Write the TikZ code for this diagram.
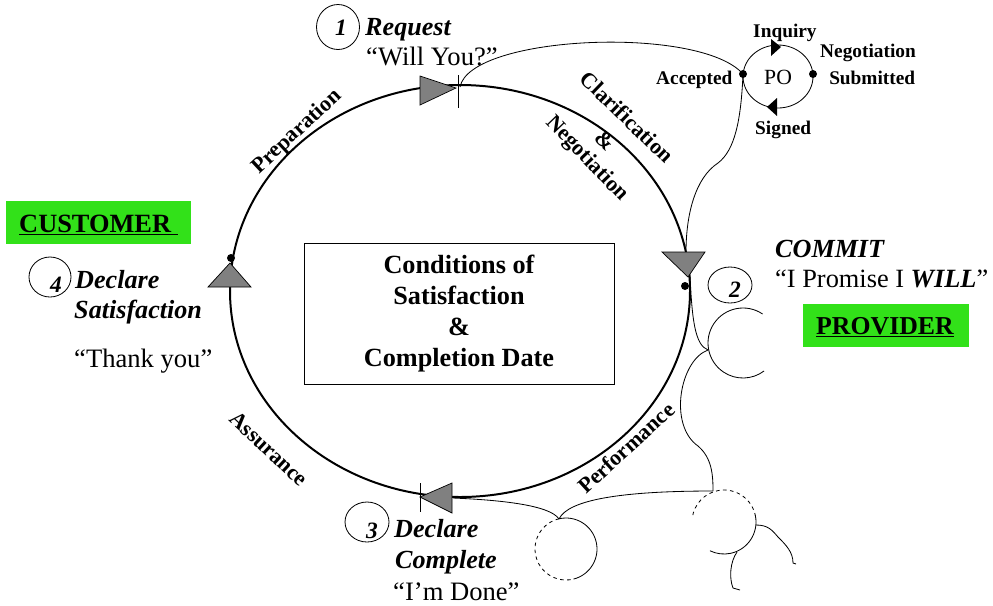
\documentclass[tikz,border=0pt]{standalone}
\usepackage{fontspec}
\setmainfont{Liberation Serif}
\definecolor{boxgreen}{RGB}{50,225,25}
\definecolor{arrowgray}{RGB}{128,128,128}

\begin{document}
\begin{tikzpicture}[x=0.03cm, y=0.03cm,
	sayit/.style={font=\fontsize{22.7}{26}\selectfont, inner sep=0pt, anchor=base west},
	bolditext/.style={sayit, font=\fontsize{22.3}{26}\selectfont\bfseries\itshape},
	arclabel/.style={font=\fontsize{18.8}{20}\selectfont\bfseries, inner sep=0pt},
	polabel/.style={font=\fontsize{16.5}{18}\selectfont\bfseries, inner sep=0pt, anchor=base west},
	numtext/.style={font=\fontsize{20}{22}\selectfont\bfseries\itshape, inner sep=0pt},
	wire/.style={line width=0.7pt},
	pointer/.style={fill=arrowgray, draw=black, line width=0.6pt},
	]
	\useasboundingbox (0,0) rectangle (993,-605);

	% the loop
	\draw[line width=1.7pt] (460,-291) ellipse [x radius=230, y radius=206];

	\node[draw, line width=0.8pt, minimum width=9.3cm, minimum height=4.23cm,
		align=center, font=\fontsize{22.4}{26.5}\selectfont\bfseries] (cos) at (459,-313.5)
		{Conditions of\\Satisfaction\\\&\\Completion Date};

	% phases
	\node[arclabel, rotate=43] (prep) at (297,-132) {Preparation};
	\node[arclabel, rotate=-44] (clar) at (627,-117) {Clarification};
	\node[arclabel, rotate=-44] (amp) at (605,-141) {\&};
	\node[arclabel, rotate=-46] (nego) at (587,-159) {Negotiation};
	\node[arclabel, rotate=42.5] (perf) at (626,-448) {Performance};
	\node[arclabel, rotate=-43] (assu) at (269,-449) {Assurance};

	% arrows on the loop
	\draw[pointer] (420,-76) -- (420,-105) -- (456,-88) -- cycle;
	\draw[line width=0.7pt] (458,-75) -- (458,-108);
	\draw[pointer] (662,-252) -- (705,-252) -- (688,-277) -- cycle;
	\draw[pointer] (208,-287) -- (251,-287) -- (230,-263) -- cycle;
	\draw[pointer] (452,-483) -- (452,-513) -- (420,-497) -- cycle;
	\draw[line width=0.7pt] (420,-483) -- (420,-512);
	\fill (685,-286) circle [radius=4];
	\fill (231,-258) circle [radius=4];

	% steps
	\draw[wire] (338,-27) ellipse [x radius=21.5, y radius=22.5];
	\node[numtext] (one) at (341,-28) {1};
	\node[bolditext] (req) at (365,-35) {Request};
	\node[sayit] (willyou) at (366,-65) {“Will You?”};

	\draw[wire] (730,-285) ellipse [x radius=22, y radius=18];
	\node[numtext] (two) at (735,-290) {2};
	\node[bolditext] (commit) at (775,-257) {COMMIT};
	\node[sayit, font=\fontsize{22.5}{26}\selectfont] (promise) at (775,-287) {“I Promise I \textbf{\textit{WILL}}”};

	\draw[wire] (367,-522) ellipse [x radius=22, y radius=20];
	\node[numtext] (three) at (372,-531) {3};
	\node[bolditext] (decl3) at (394,-537) {Declare};
	\node[bolditext] (compl) at (395,-568) {Complete};
	\node[sayit] (done) at (393,-600) {“I’m Done”};

	\draw[wire] (50,-277) ellipse [x radius=21, y radius=20];
	\node[numtext] (four) at (56,-285) {4};
	\node[bolditext] (decl4) at (75,-288) {Declare};
	\node[bolditext] (satis) at (74,-318) {Satisfaction};
	\node[sayit] (thanks) at (74,-367) {“Thank you”};

	% roles
	\fill[boxgreen] (6,-201) rectangle (191,-244);
	\node[sayit, font=\fontsize{22.5}{26}\selectfont\bfseries] (customer) at (19,-232) {\underline{CUSTOMER\ }};
	\fill[boxgreen] (803,-304) rectangle (969,-347);
	\node[sayit, font=\fontsize{22}{26}\selectfont\bfseries] (provider) at (816,-334) {\underline{PROVIDER}};

	% PO cycle
	\draw[wire] (778,-76.5) ellipse [x radius=35, y radius=31.5];
	\fill (771,-39) -- (771,-56) -- (781,-47) -- cycle;
	\fill (777,-98) -- (777,-116) -- (767,-107) -- cycle;
	\coordinate (acc) at (743,-74);
	\coordinate (subm) at (813,-74);
	\fill (acc) circle [radius=4];
	\fill (subm) circle [radius=4];
	\node[sayit, font=\fontsize{18.5}{20}\selectfont] (po) at (764,-84) {PO};
	\node[polabel] (inq) at (753,-37) {Inquiry};
	\node[polabel] (negs) at (820,-57) {Negotiation};
	\node[polabel] (sub) at (829,-84) {Submitted};
	\node[polabel] (accl) at (656,-84) {Accepted};
	\node[polabel] (sig) at (755,-134) {Signed};

	% threads
	\coordinate (reqtick) at (460,-87);
	\coordinate (commtop) at (686,-252);
	\coordinate (commlow) at (690,-275);
	\coordinate (joint) at (708,-350);
	\coordinate (donebase) at (453,-498);
	\coordinate (lowtop) at (559,-519);
	\coordinate (righttop) at (713,-491);
	\coordinate (rightside) at (756,-525);
	\coordinate (rightfoot) at (737,-552);

	\draw[wire] (reqtick) .. controls (470,-35) and (700,-25) .. (acc);
	\draw[wire] (acc) .. controls (741,-120) and (735,-150) .. (718,-163)
		.. controls (695,-178) and (686,-215) .. (commtop);
	\draw[wire] (commlow) .. controls (692,-320) and (695,-345) .. (joint);
	\draw[wire] (joint) .. controls (680,-360) and (668,-425) .. (698,-446)
		.. controls (712,-458) and (713,-475) .. (righttop);
	\draw[wire] (donebase) .. controls (500,-500) and (550,-505) .. (lowtop);
	\draw[wire] (lowtop) .. controls (568,-500) and (620,-491) .. (righttop);

	% small loops
	\draw[wire] (743,-343) ++(56:35) arc [start angle=56, end angle=307, radius=35];
	\draw[wire] (566,-549) ++(103:31) arc [start angle=103, end angle=-76, radius=31];
	\draw[wire, dashed] (566,-549) ++(103:31) arc [start angle=103, end angle=284, radius=31];
	\draw[wire, dashed] (724,-522) ++(10:32) arc [start angle=10, end angle=173, radius=32];
	\draw[wire] (724,-522) ++(12:32) arc [start angle=12, end angle=-116, radius=32];
	\draw[wire] (rightside) .. controls (768,-525) and (772,-530) .. (778,-537)
		.. controls (786,-545) and (793,-552) .. (793,-563) -- (796,-564);
	\draw[wire] (rightfoot) .. controls (730,-562) and (729,-578) .. (733,-588) -- (740,-590);
\end{tikzpicture}
\end{document}
